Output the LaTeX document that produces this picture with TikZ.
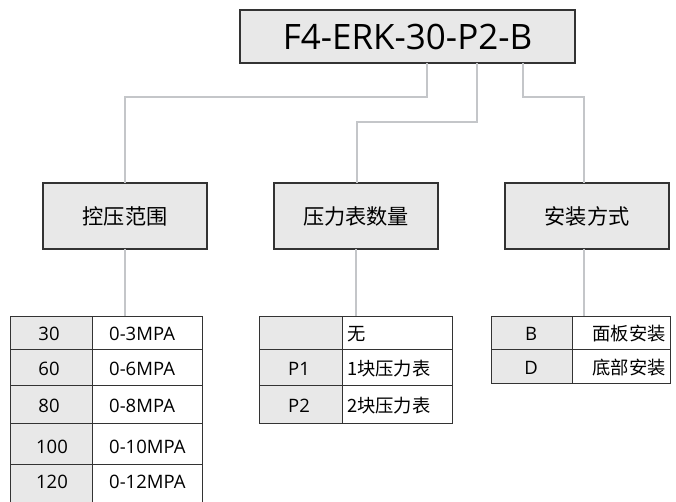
\documentclass[tikz,border=0pt]{standalone}
\usepackage{fontspec}
\setmainfont{Open Sans}
\newfontfamily\cjk{Noto Sans CJK SC}
\definecolor{boxfill}{HTML}{E8E8E8}
\definecolor{boxline}{HTML}{333333}
\definecolor{wire}{HTML}{C4C6C9}
\begin{document}
\begin{tikzpicture}[x=1pt,y=-1pt,
  mainbox/.style={draw=boxline,line width=1.3pt,fill=boxfill,minimum width=335pt,minimum height=53pt,inner sep=0pt,font=\fontsize{35}{38}\selectfont},
  catbox/.style={draw=boxline,line width=1.3pt,fill=boxfill,minimum width=164pt,minimum height=66pt,inner sep=0pt,font=\cjk\fontsize{21.2}{24}\selectfont},
  wireline/.style={draw=wire,line width=1.8pt},
  cell/.style={draw=boxline,line width=1.2pt,anchor=north west,inner sep=0pt},
  cellg/.style={cell,fill=boxfill},
  cellw/.style={cell,fill=white},
  ctext/.style={anchor=west,inner sep=0pt,font=\fontsize{18.5}{20}\selectfont},
  cjtext/.style={anchor=west,inner sep=0pt,font=\cjk\fontsize{18.3}{20}\selectfont},
  cjctext/.style={inner sep=0pt,font=\cjk\fontsize{18.3}{20}\selectfont}
]
\useasboundingbox (0,0) rectangle (676,502);

% top box
\node[mainbox] (top) at (407.5,36.5) {F4-ERK-30-P2-B};

% category boxes
\node[catbox] (catA) at (125,216) {控压范围};
\node[catbox] (catB) at (356,216) {压力表数量};
\node[catbox] (catC) at (587,216) {安装方式};

% connector points
\coordinate (tA) at (427,63);
\coordinate (tB) at (477,63);
\coordinate (tC) at (523,63);
\coordinate (kA) at (125,97);
\coordinate (kB) at (357,122);
\coordinate (kC) at (584,97);
\coordinate (aA) at (125,183);
\coordinate (aB) at (357,183);
\coordinate (aC) at (584,183);
\coordinate (bA) at (125,249);
\coordinate (bB) at (356,249);
\coordinate (bC) at (584,249);
\coordinate (sA) at (125,316);
\coordinate (sB) at (356,316);
\coordinate (sC) at (584,316);

\draw[wireline] (tA) |- (kA) -- (aA);
\draw[wireline] (tB) |- (kB) -- (aB);
\draw[wireline] (tC) |- (kC) -- (aC);
\draw[wireline] (bA) -- (sA);
\draw[wireline] (bB) -- (sB);
\draw[wireline] (bC) -- (sC);

% left table: x 10-92-202
\node[cellg,minimum width=82pt,minimum height=33pt] (a1k) at (10,316) {};
\node[cellw,minimum width=110pt,minimum height=33pt] (a1v) at (92,316) {};
\node[cellg,minimum width=82pt,minimum height=36pt] (a2k) at (10,349) {};
\node[cellw,minimum width=110pt,minimum height=36pt] (a2v) at (92,349) {};
\node[cellg,minimum width=82pt,minimum height=38pt] (a3k) at (10,385) {};
\node[cellw,minimum width=110pt,minimum height=38pt] (a3v) at (92,385) {};
\node[cellg,minimum width=82pt,minimum height=41pt] (a4k) at (10,423) {};
\node[cellw,minimum width=110pt,minimum height=41pt] (a4v) at (92,423) {};
\node[cellg,minimum width=82pt,minimum height=44pt] (a5k) at (10,464) {};
\node[cellw,minimum width=110pt,minimum height=44pt] (a5v) at (92,464) {};

\node[ctext,anchor=center] at (49,334) {30};
\node[ctext,anchor=center] at (49,369) {60};
\node[ctext,anchor=center] at (49,406) {80};
\node[ctext,anchor=center] at (52,447) {100};
\node[ctext,anchor=center] at (52,482) {120};
\node[ctext] at (109,334) {0-3MPA};
\node[ctext] at (109,369) {0-6MPA};
\node[ctext] at (109,406) {0-8MPA};
\node[ctext] at (109,447) {0-10MPA};
\node[ctext] at (109,482) {0-12MPA};

% middle table: x 259-342-452
\node[cellg,minimum width=83pt,minimum height=33pt] (b1k) at (259,316) {};
\node[cellw,minimum width=110pt,minimum height=33pt] (b1v) at (342,316) {};
\node[cellg,minimum width=83pt,minimum height=36pt] (b2k) at (259,349) {};
\node[cellw,minimum width=110pt,minimum height=36pt] (b2v) at (342,349) {};
\node[cellg,minimum width=83pt,minimum height=38pt] (b3k) at (259,385) {};
\node[cellw,minimum width=110pt,minimum height=38pt] (b3v) at (342,385) {};

\node[cjtext] at (347,334) {无};
\node[ctext,anchor=center] at (299,369) {P1};
\node[ctext,anchor=center] at (299,406) {P2};
\node[cjtext] at (347,369) {1块压力表};
\node[cjtext] at (347,406) {2块压力表};

% right table: x 491-572-670
\node[cellg,minimum width=81pt,minimum height=33pt] (c1k) at (491,316) {};
\node[cellw,minimum width=98pt,minimum height=33pt] (c1v) at (572,316) {};
\node[cellg,minimum width=81pt,minimum height=34pt] (c2k) at (491,349) {};
\node[cellw,minimum width=98pt,minimum height=34pt] (c2v) at (572,349) {};

\node[ctext,anchor=center] at (531,334) {B};
\node[ctext,anchor=center] at (531,368) {D};
\node[cjctext] at (629,334) {面板安装};
\node[cjctext] at (629,368) {底部安装};
\end{tikzpicture}
\end{document}
